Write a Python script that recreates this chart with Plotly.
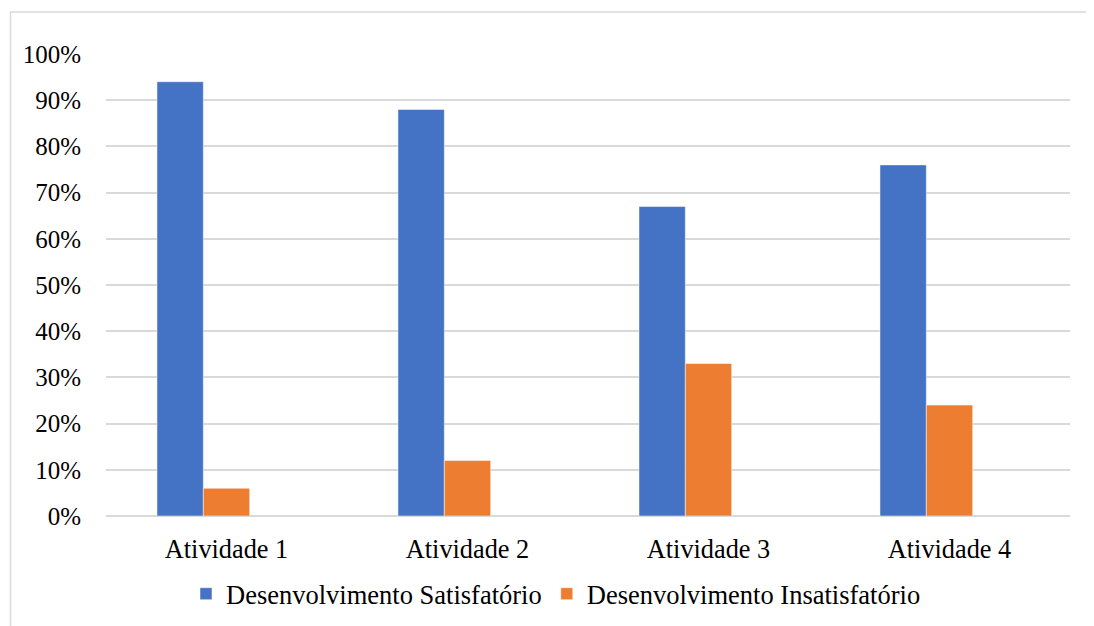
import plotly.graph_objects as go

categories = ["Atividade 1", "Atividade 2", "Atividade 3", "Atividade 4"]
satisfatorio = [0.94, 0.88, 0.67, 0.76]
insatisfatorio = [0.06, 0.12, 0.33, 0.24]
vazio = [None, None, None, None]
y_ticks = [0, 0.1, 0.2, 0.3, 0.4, 0.5, 0.6, 0.7, 0.8, 0.9, 1.0]
y_labels = ["0%", "10%", "20%", "30%", "40%", "50%", "60%", "70%", "80%", "90%", "100%"]

FONT = "Times New Roman, Liberation Serif, serif"

# page body has an 8px margin; work in page coordinates and subtract it
OFF = 8
W, H = 1094 - OFF, 626 - OFF
plot_left, plot_right, plot_top, plot_bottom = 106, 1070, 53.5, 516
L = plot_left - OFF
T = plot_top - OFF
pw = plot_right - plot_left
ph = plot_bottom - plot_top
R = W - L - pw
B = H - T - ph

def px(x):
    return (x - plot_left) / pw

def py(y):
    return (plot_bottom - y) / ph

def cx(x):
    return (x - OFF) / W

def cy(y):
    return (H - (y - OFF)) / H

fig = go.Figure()
fig.add_trace(go.Bar(x=categories, y=satisfatorio, name="Desenvolvimento Satisfatório",
                     marker=dict(color="#4472C4", line=dict(color="white", width=0.5))))
fig.add_trace(go.Bar(x=categories, y=insatisfatorio, name="Desenvolvimento Insatisfatório",
                     marker=dict(color="#ED7D31", line=dict(color="white", width=0.5))))
fig.add_trace(go.Bar(x=categories, y=vazio, name="", showlegend=False,
                     marker=dict(color="#A5A5A5")))

fig.update_layout(
    width=W, height=H,
    margin=dict(l=L, r=R, t=T, b=B, pad=0),
    paper_bgcolor="white", plot_bgcolor="white",
    barmode="group", bargap=0.423, bargroupgap=0,
    font=dict(family=FONT, size=25, color="#000000"),
    xaxis=dict(showgrid=False, showline=False, ticks="", tickfont=dict(family=FONT, size=26.3),
               ticklabelstandoff=15, automargin=False),
    yaxis=dict(range=[0, 1], tickvals=y_ticks, ticktext=y_labels,
               showgrid=True, gridcolor="#D9D9D9", gridwidth=1.5,
               zeroline=True, zerolinecolor="#D9D9D9", zerolinewidth=1.5,
               showline=False, ticks="", ticklabelstandoff=24, automargin=False,
               tickfont=dict(family=FONT, size=25)),
    legend=dict(orientation="h", xref="container", yref="container",
                x=cx(556), xanchor="center",
                y=cy(594), yanchor="middle",
                font=dict(family=FONT, size=26.5), itemwidth=30, traceorder="normal"),
    shapes=[dict(type="rect", xref="paper", yref="paper",
                 x0=px(10.5), x1=px(1120),
                 y0=py(700), y1=py(11.5),
                 line=dict(color="#D9D9D9", width=1.5), fillcolor="rgba(0,0,0,0)",
                 layer="below")],
)

fig.write_html("out.html")
